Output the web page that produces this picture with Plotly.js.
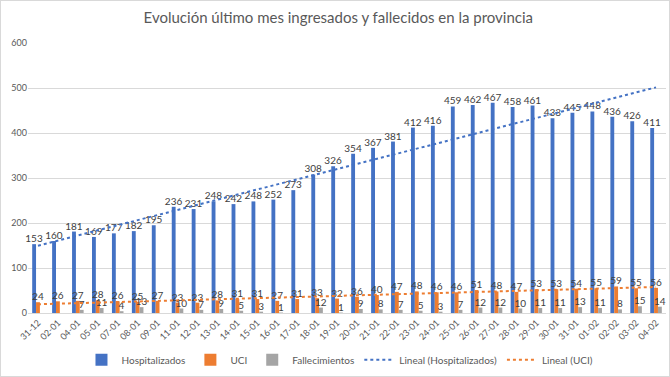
<!DOCTYPE html>
<html>
<head>
<meta charset="utf-8">
<script src="https://cdn.plot.ly/plotly-3.0.1.min.js"></script>
<style>
html,body{margin:0;padding:0;background:#fff;}
#chart{width:668px;height:375px;border:1px solid #d9d9d9;}
</style>
</head>
<body>
<div id="chart"></div>
<script>
const categories = ["31-12","02-01","04-01","05-01","07-01","08-01","09-01","11-01","12-01","13-01","14-01","15-01","16-01","17-01","18-01","19-01","20-01","21-01","22-01","23-01","24-01","25-01","26-01","27-01","28-01","29-01","30-01","31-01","01-02","02-02","03-02","04-02"];
const hospitalizados = [153,160,181,169,177,182,195,236,231,248,242,248,252,273,308,326,354,367,381,412,416,459,462,467,458,461,433,445,448,436,426,411];
const uci = [24,26,27,28,26,25,27,23,23,28,31,31,27,31,33,32,36,40,47,48,46,46,51,48,47,53,53,54,55,59,55,56];
const fallecimientos = [null,null,7,11,4,13,null,10,7,9,5,3,1,null,12,1,9,8,7,5,3,7,12,12,10,11,11,13,11,8,15,14];

function linearTrend(vals){
  const n = vals.length;
  let sx=0, sy=0, sxx=0, sxy=0;
  vals.forEach((v,i)=>{ const x=i+1; sx+=x; sy+=v; sxx+=x*x; sxy+=x*v; });
  const b = (n*sxy - sx*sy)/(n*sxx - sx*sx);
  const a = (sy - b*sx)/n;
  return vals.map((v,i)=>a + b*(i+1));
}

const labelFont = {family:"Lato, sans-serif", size:10, color:"#404040"};
const barCommon = {type:"bar", textposition:"outside", cliponaxis:false, constraintext:"none", textangle:0, textfont:labelFont};

const traces = [
  Object.assign({}, barCommon, {name:"Hospitalizados", x:categories, y:hospitalizados, text:hospitalizados.map(String), marker:{color:"#4472C4"}}),
  Object.assign({}, barCommon, {name:"UCI", x:categories, y:uci, text:uci.map(String), marker:{color:"#ED7D31"}}),
  Object.assign({}, barCommon, {name:"Fallecimientos", x:categories, y:fallecimientos, text:fallecimientos.map(v=>v==null?"":String(v)), marker:{color:"#A5A5A5"}}),
  {type:"scatter", mode:"lines", name:"Lineal (Hospitalizados)", x:categories, y:linearTrend(hospitalizados), line:{color:"#4472C4", dash:"dot", width:2}},
  {type:"scatter", mode:"lines", name:"Lineal (UCI)", x:categories, y:linearTrend(uci), line:{color:"#ED7D31", dash:"dot", width:2}}
];

const layout = {
  width:668, height:375,
  margin:{l:27, r:3, t:42, b:63, autoexpand:false},
  paper_bgcolor:"#fff", plot_bgcolor:"#fff",
  title:{text:"Evolución último mes ingresados y fallecidos en la provincia", font:{family:"Lato, sans-serif", size:15, color:"#595959"}, x:0.505, xanchor:"center", y:0.955, yanchor:"middle"},
  barmode:"group", bargap:0.42, bargroupgap:0,
  font:{family:"Lato, sans-serif", color:"#595959"},
  xaxis:{type:"category", tickangle:-45, tickfont:{size:9, color:"#595959"}, showgrid:false, showline:true, linecolor:"#d9d9d9", ticks:"", automargin:false},
  yaxis:{range:[0,600], dtick:100, tickfont:{size:9, color:"#595959"}, gridcolor:"#d9d9d9", zeroline:false, showline:false, ticks:"", automargin:false},
  legend:{orientation:"h", x:0.489, xanchor:"center", y:-0.119, yanchor:"top", font:{size:10, color:"#595959"}, traceorder:"normal", itemwidth:30},
  showlegend:true,
  hovermode:false
};

Plotly.newPlot("chart", traces, layout, {displayModeBar:false, staticPlot:true});
</script>
</body>
</html>
